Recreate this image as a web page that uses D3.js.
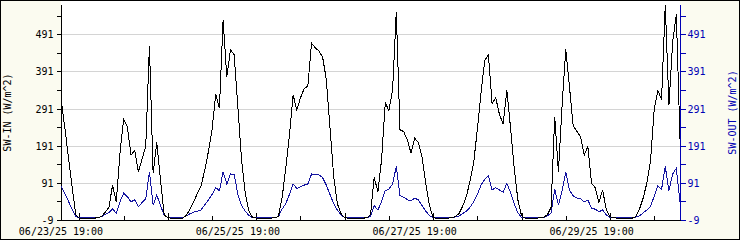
<!DOCTYPE html>
<html>
<head>
<meta charset="utf-8">
<script src="https://cdn.jsdelivr.net/npm/d3@7"></script>
<style>
  body { margin: 0; background: #fbfbf0; }
  svg { display: block; }
  text { font-family: "DejaVu Sans Mono", monospace; font-size: 10px; }
</style>
</head>
<body>
<script>
// hourly readings, starting 06/23/25 19:00 (UTC)
const startTime = "2025-06-23T19:00:00Z";

const swIn = [
  319, 242, 162, 82, 5, -4, -4, -4, -4, -4, -3, 0,
  12, 25, 85, 40, 171, 262, 242, 166, 178, 121, 155, 189,
  460, 117, 200, 99, 5, -3, -4, -4, -4, -4, 3, 20,
  40, 62, 82, 125, 175, 235, 330, 292, 530, 377, 449, 436,
  296, 153, 63, 15, -2, -4, -4, -4, -4, -4, -3, 0,
  50, 130, 220, 328, 287, 320, 345, 352, 467, 455, 446, 430,
  370, 240, 110, 35, 8, -3, -4, -4, -4, -4, -4, -3,
  5, 106, 67, 153, 306, 286, 341, 552, 234, 229, 207, 171,
  211, 200, 160, 90, 30, -3, -4, -4, -4, -4, -3, 0,
  8, 28, 54, 95, 145, 235, 335, 420, 436, 305, 320, 275,
  250, 341, 240, 130, 45, 2, -4, -4, -4, -4, -3, -2,
  5, 25, 269, 121, 300, 451, 350, 245, 230, 215, 166, 189,
  90, 78, 38, 72, 18, 0, -3, -4, -4, -4, -4, -4,
  0, 20, 50, 90, 150, 290, 340, 315, 570, 300, 470, 545,
  210
];

const swOut = [
  82, 62, 42, 20, 0, -3, -3, -3, -3, -3, -3, 0,
  6, 11, 21, 9, 40, 63, 54, 40, 45, 27, 38, 48,
  120, 31, 58, 30, 4, -3, -3, -3, -3, -3, 2, 8,
  12, 15, 18, 32, 45, 60, 78, 70, 121, 88, 115, 114,
  60, 30, 15, 3, -3, -3, -3, -3, -3, -3, -3, 0,
  20, 35, 60, 88, 76, 80, 85, 88, 115, 114, 113, 105,
  85, 60, 35, 18, 5, -3, -3, -3, -3, -3, -3, -3,
  0, 30, 18, 40, 70, 74, 88, 135, 57, 52, 46, 42,
  50, 45, 30, 15, 3, -3, -3, -3, -3, -3, -3, -1,
  2, 8, 15, 25, 40, 60, 85, 100, 110, 72, 78, 72,
  66, 90, 65, 35, 10, -2, -3, -3, -3, -3, -3, -2,
  2, 10, 74, 31, 70, 120, 72, 56, 50, 48, 40, 45,
  23, 20, 13, 18, 5, -2, -3, -3, -3, -3, -3, -3,
  -1, 2, 10, 18, 28, 55, 83, 74, 135, 70, 115, 130,
  40
];

const yLabelTicks = [-9, 91, 191, 291, 391, 491];
const yMinorTicks = [41, 141, 241, 341, 441, 541];
const xLabelTicks = ["06/23/25 19:00", "06/25/25 19:00", "06/27/25 19:00", "06/29/25 19:00"];

const W = 740, H = 240;
const m = {left: 61, right: 680, top: 5, bottom: 220};
const inColor = "#000000", outColor = "#1414a0", axisBlue = "#0000b4";

const t0 = new Date(startTime);
const times = swIn.map((d, i) => d3.utcHour.offset(t0, i));

const x = d3.scaleUtc()
    .domain([t0, times[times.length - 1]])
    .range([m.left, m.right]);
const y = d3.scaleLinear()
    .domain([-9, 570])
    .range([m.bottom, m.top]);

const svg = d3.select("body").append("svg")
    .attr("width", W)
    .attr("height", H);

svg.append("rect")
    .attr("x", 0.5).attr("y", 0.5)
    .attr("width", W - 1).attr("height", H - 1)
    .attr("fill", "#fbfbf0")
    .attr("stroke", "#000");

svg.append("rect")
    .attr("x", m.left).attr("y", 1)
    .attr("width", m.right - m.left).attr("height", m.bottom - 1)
    .attr("fill", "#fff");

// grid
svg.append("g").selectAll("line")
    .data(yLabelTicks.slice(1))
    .enter().append("line")
        .attr("x1", m.left).attr("x2", m.right)
        .attr("y1", d => Math.round(y(d)) + 0.5)
        .attr("y2", d => Math.round(y(d)) + 0.5)
        .attr("stroke", "#d4d4d4");

// left axis
const yAxisL = svg.append("g")
    .attr("transform", "translate(" + (m.left + 0.5) + ",0)")
    .call(d3.axisLeft(y)
        .tickValues(yLabelTicks.concat(yMinorTicks))
        .tickSize(5)
        .tickPadding(3)
        .tickFormat(d => yLabelTicks.includes(d) ? d : ""));
yAxisL.select(".domain").attr("d", "M0," + m.top + "V" + m.bottom);

// right axis
const yAxisR = svg.append("g")
    .attr("transform", "translate(" + (m.right + 0.5) + ",0)")
    .call(d3.axisRight(y)
        .tickValues(yLabelTicks.concat(yMinorTicks))
        .tickSize(5)
        .tickPadding(2)
        .tickFormat(d => yLabelTicks.includes(d) ? d : ""));
yAxisR.select(".domain").attr("d", "M0," + m.top + "V" + m.bottom);
yAxisR.selectAll("line, path").attr("stroke", axisBlue);
yAxisR.selectAll("text").attr("fill", axisBlue);

[yAxisL, yAxisR].forEach(g => {
    g.selectAll("line, path").attr("shape-rendering", "crispEdges");
    g.selectAll("text").attr("dy", "0.35em").style("font-size", "10px")
        .style("font-family", "DejaVu Sans Mono, monospace");
});

// bottom axis: ticks every 12h pointing in, labels every 2 days
const parseLbl = d3.utcParse("%m/%d/%y %H:%M");
const labelDates = xLabelTicks.map(parseLbl);
const xTicks = d3.utcHour.every(12).range(t0, d3.utcHour.offset(times[times.length - 1], 1));

const xg = svg.append("g");
xg.append("line")
    .attr("x1", m.left).attr("x2", m.right + 1)
    .attr("y1", m.bottom + 0.5).attr("y2", m.bottom + 0.5)
    .attr("stroke", "#000");
xg.selectAll(".xt")
    .data(xTicks)
    .enter().append("line")
        .attr("class", "xt")
        .attr("x1", d => Math.round(x(d)) + 0.5)
        .attr("x2", d => Math.round(x(d)) + 0.5)
        .attr("y1", m.bottom)
        .attr("y2", (d, i) => m.bottom - (i % 2 === 0 ? 7 : 4))
        .attr("stroke", "#000");
xg.selectAll("text")
    .data(labelDates)
    .enter().append("text")
        .attr("x", d => x(d))
        .attr("y", 235)
        .attr("text-anchor", "middle")
        .text((d, i) => xLabelTicks[i]);

// series
const line = d3.line()
    .x((d, i) => x(times[i]))
    .y(d => y(d));

svg.append("path")
    .datum(swOut)
    .attr("d", line)
    .attr("fill", "none")
    .attr("stroke", outColor)
    .attr("stroke-width", 1)
    .attr("shape-rendering", "crispEdges");

svg.append("path")
    .datum(swIn)
    .attr("d", line)
    .attr("fill", "none")
    .attr("stroke", inColor)
    .attr("stroke-width", 1)
    .attr("shape-rendering", "crispEdges");

// axis titles
svg.append("text")
    .attr("transform", "translate(11," + (m.top + m.bottom) / 2 + ") rotate(-90)")
    .attr("text-anchor", "middle")
    .attr("fill", "#000")
    .text("SW-IN (W/m^2)");

svg.append("text")
    .attr("transform", "translate(736," + (m.top + m.bottom) / 2 + ") rotate(-90)")
    .attr("text-anchor", "middle")
    .attr("fill", axisBlue)
    .text("SW-OUT (W/m^2)");
</script>
</body>
</html>
